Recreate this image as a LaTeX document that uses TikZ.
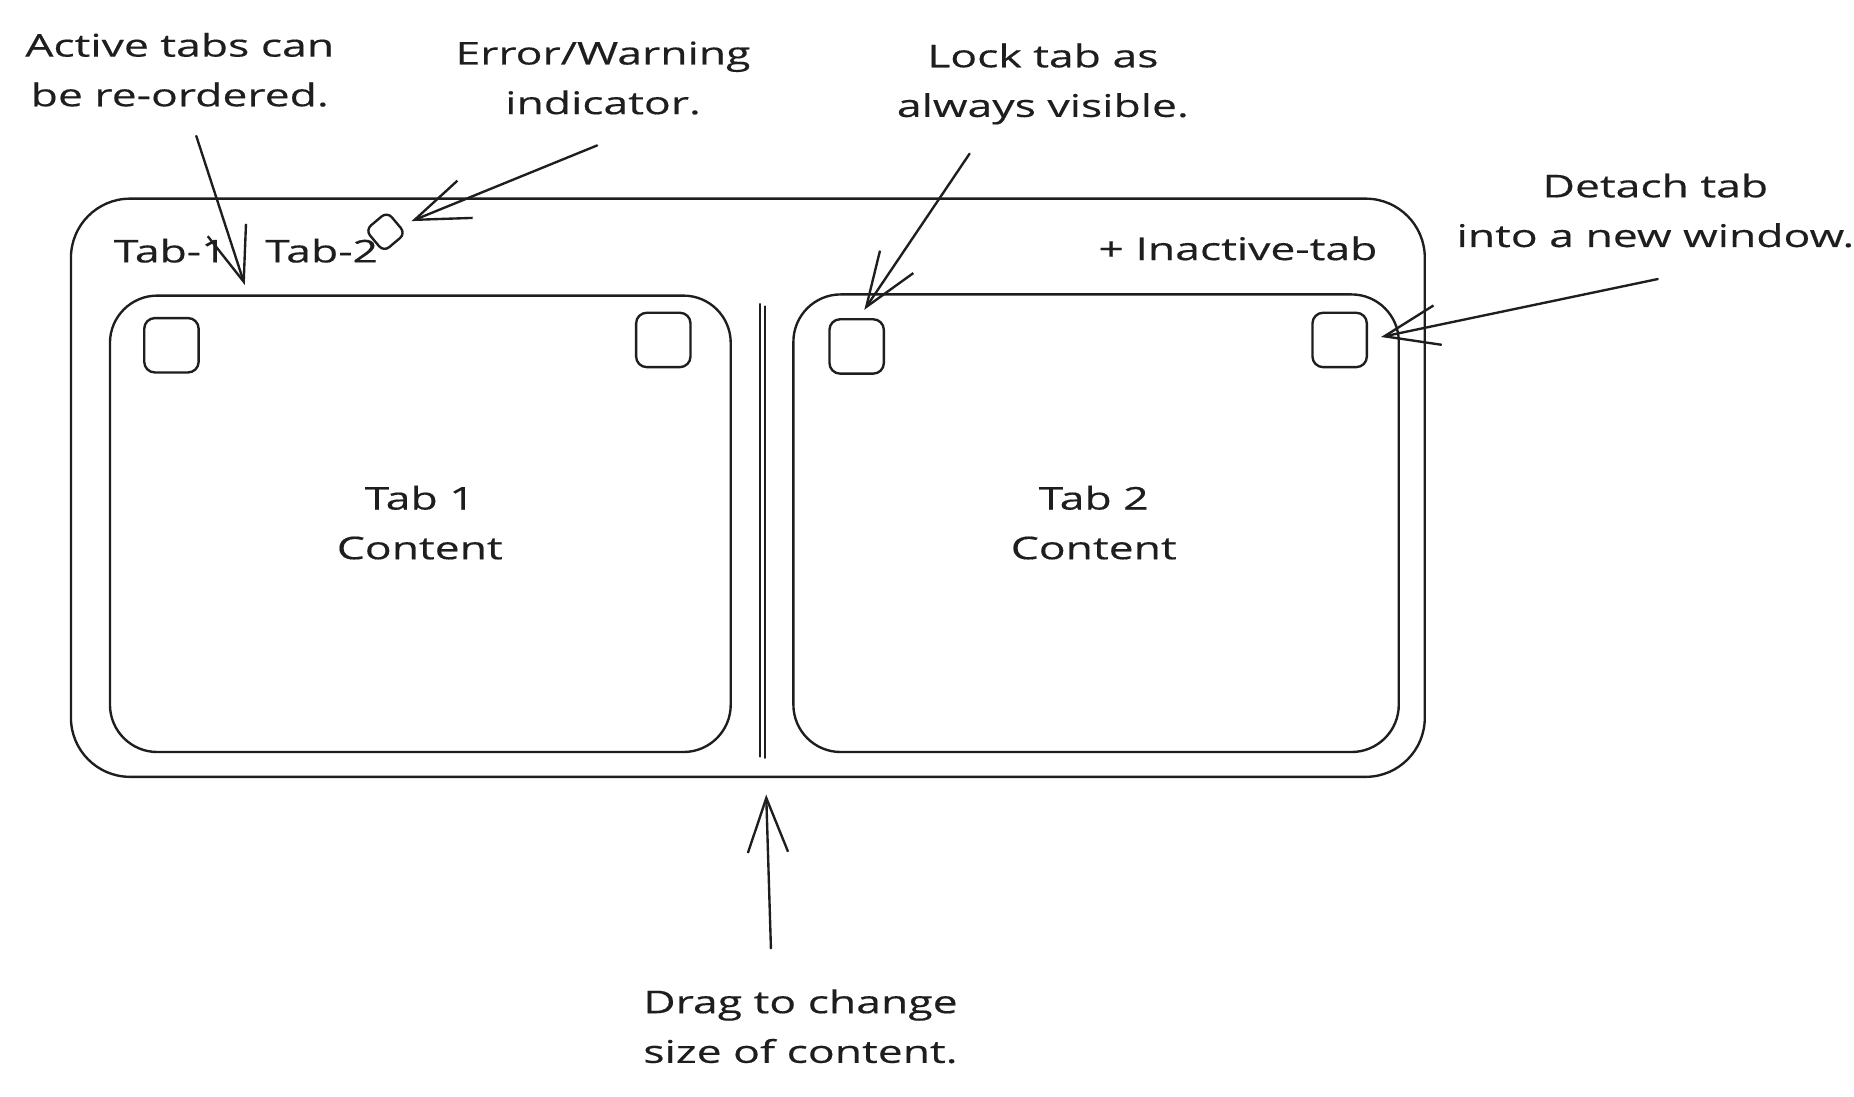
\documentclass[tikz,border=0pt]{standalone}
\usepackage{fontspec}
\setmainfont{Open Sans}[FakeStretch=1.42,FakeBold=0.4]
\usetikzlibrary{arrows.meta}
\definecolor{ink}{HTML}{1E1E1E}
\begin{document}
\begin{tikzpicture}[x=1pt,y=-1pt,
  stroke/.style={line width=2pt, draw=ink, line cap=round, line join=round},
  frame/.style={stroke, rectangle, inner sep=0pt},
  sq/.style={frame, rounded corners=9pt, minimum width=46pt, minimum height=46pt},
  lbl/.style={font=\fontsize{26.5}{42}\selectfont, align=center, text=ink, inner sep=0pt},
  note/.style={stroke, -{Straight Barb[length=46pt,width=34pt,line width=2pt]}},
]
\fill[white] (0,0) rectangle (1568,927);
\useasboundingbox (0,0) rectangle (1568,927);

% window and panes
\node[frame, rounded corners=50pt, minimum width=1145pt, minimum height=489pt] (outer) at (632.5,412.5) {};
\node[frame, rounded corners=40pt, minimum width=525pt, minimum height=386pt] (pane1) at (355.5,443) {};
\node[frame, rounded corners=40pt, minimum width=512pt, minimum height=387pt] (pane2) at (927,442.5) {};

% divider
\coordinate (dTa) at (643,257); \coordinate (dBa) at (643,640);
\coordinate (dTb) at (647,259); \coordinate (dBb) at (647,641);
\draw[stroke, line width=1.4pt] (dTa) -- (dBa);
\draw[stroke, line width=1.4pt] (dTb) -- (dBb);

% small buttons
\node[sq] (lock1) at (145,292) {};
\node[sq] (det1) at (561,287.5) {};
\node[sq] (lock2) at (724.5,293) {};
\node[sq] (det2) at (1133,287.5) {};

% error indicator
\node[frame, rounded corners=6pt, minimum size=24pt, rotate=40] (err) at (326,196) {};

% tab titles
\node[lbl] (tab1) at (144,212) {Tab-1};
\node[lbl] (tab2) at (272,212) {Tab-2};
\node[lbl] (inact) at (1047,210) {+ Inactive-tab};

% content
\node[lbl] (c1) at (355,442) {Tab 1\\Content};
\node[lbl] (c2) at (925,442) {Tab 2\\Content};

% notes
\node[lbl] (n1) at (152,59) {Active tabs can\\be re-ordered.};
\node[lbl] (n2) at (510,66) {Error/Warning\\indicator.};
\node[lbl] (n3) at (882,71) {Lock tab as\\always visible.};
\node[lbl] (n4) at (1400,178) {Detach tab\\into a new window.};
\node[lbl] (n5) at (677,868) {Drag to change\\size of content.};

% arrow ends
\coordinate (s1) at (166,115); \coordinate (e1) at (207,241);
\coordinate (s2) at (505,123); \coordinate (e2) at (348,187);
\coordinate (s3) at (820,130); \coordinate (e3) at (731,262);
\coordinate (s4) at (1402,236); \coordinate (e4) at (1168,285);
\coordinate (s5) at (652,802); \coordinate (e5) at (648,672);

\draw[note] (s1) -- (e1);
\draw[note] (s2) -- (e2);
\draw[note] (s3) -- (e3);
\draw[note] (s4) -- (e4);
\draw[note] (s5) -- (e5);
\end{tikzpicture}
\end{document}
